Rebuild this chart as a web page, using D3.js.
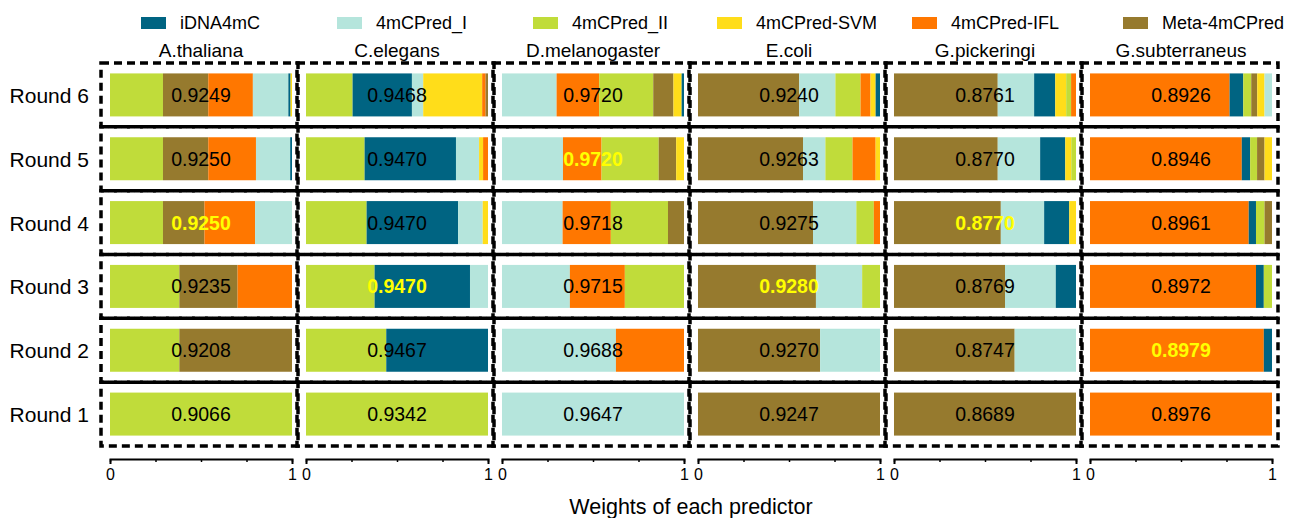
<!DOCTYPE html>
<html>
<head>
<meta charset="utf-8">
<script src="https://cdn.jsdelivr.net/npm/d3@7"></script>
<style>
  body { margin: 0; background: #fff; }
  text { font-family: "Liberation Sans", Arial, sans-serif; fill: #000; }
</style>
</head>
<body>
<script>
// Weights of each predictor per round, one small panel per species

const species = ["A.thaliana", "C.elegans", "D.melanogaster", "E.coli", "G.pickeringi", "G.subterraneus"];
const predictors = ["iDNA4mC", "4mCPred_I", "4mCPred_II", "4mCPred-SVM", "4mCPred-IFL", "Meta-4mCPred"];
const rounds = ["Round 1", "Round 2", "Round 3", "Round 4", "Round 5", "Round 6"];
const axisTicks = [0, 0.25, 0.5, 0.75, 1];

// order in which the predictors were added (round n uses the first n)
const orderAth = ["4mCPred_II", "Meta-4mCPred", "4mCPred-IFL", "4mCPred_I", "iDNA4mC", "4mCPred-SVM"];
const orderCel = ["4mCPred_II", "iDNA4mC", "4mCPred_I", "4mCPred-SVM", "4mCPred-IFL", "Meta-4mCPred"];
const orderDme = ["4mCPred_I", "4mCPred-IFL", "4mCPred_II", "Meta-4mCPred", "4mCPred-SVM", "iDNA4mC"];
const orderEco = ["Meta-4mCPred", "4mCPred_I", "4mCPred_II", "4mCPred-IFL", "4mCPred-SVM", "iDNA4mC"];
const orderGpi = ["Meta-4mCPred", "4mCPred_I", "iDNA4mC", "4mCPred-SVM", "4mCPred_II", "4mCPred-IFL"];
const orderGsu = ["4mCPred-IFL", "iDNA4mC", "4mCPred_II", "Meta-4mCPred", "4mCPred-SVM", "4mCPred_I"];

// weights per round (Round 1 .. Round 6), in the order above
const weightsAth = [[1], [0.381, 0.619], [0.381, 0.320, 0.299], [0.291, 0.228, 0.278, 0.203],
  [0.291, 0.249, 0.262, 0.188, 0.010], [0.291, 0.249, 0.245, 0.195, 0.012, 0.008]];
const weightsCel = [[1], [0.441, 0.559], [0.377, 0.524, 0.099], [0.333, 0.503, 0.135, 0.029],
  [0.322, 0.502, 0.127, 0.022, 0.027], [0.256, 0.326, 0.062, 0.324, 0.019, 0.013]];
const weightsDme = [[1], [0.626, 0.374], [0.373, 0.302, 0.325], [0.333, 0.265, 0.314, 0.088],
  [0.335, 0.212, 0.314, 0.096, 0.043], [0.300, 0.234, 0.297, 0.111, 0.045, 0.013]];
const weightsEco = [[1], [0.671, 0.329], [0.648, 0.254, 0.098], [0.632, 0.238, 0.096, 0.034],
  [0.577, 0.123, 0.149, 0.127, 0.024], [0.556, 0.199, 0.138, 0.055, 0.028, 0.024]];
const weightsGpi = [[1], [0.663, 0.337], [0.610, 0.279, 0.111], [0.587, 0.238, 0.138, 0.037],
  [0.570, 0.233, 0.138, 0.033, 0.026], [0.570, 0.200, 0.116, 0.060, 0.027, 0.027]];
const weightsGsu = [[1], [0.955, 0.045], [0.912, 0.043, 0.045], [0.872, 0.040, 0.047, 0.041],
  [0.834, 0.046, 0.038, 0.041, 0.041], [0.767, 0.075, 0.044, 0.033, 0.040, 0.041]];

// accuracy printed on each bar (Round 1 .. Round 6)
const accAth = ["0.9066", "0.9208", "0.9235", "0.9250", "0.9250", "0.9249"];
const accCel = ["0.9342", "0.9467", "0.9470", "0.9470", "0.9470", "0.9468"];
const accDme = ["0.9647", "0.9688", "0.9715", "0.9718", "0.9720", "0.9720"];
const accEco = ["0.9247", "0.9270", "0.9280", "0.9275", "0.9263", "0.9240"];
const accGpi = ["0.8689", "0.8747", "0.8769", "0.8770", "0.8770", "0.8761"];
const accGsu = ["0.8976", "0.8979", "0.8972", "0.8961", "0.8946", "0.8926"];

// round picked as best (highlighted)
const bestRound = ["Round 4", "Round 3", "Round 5", "Round 3", "Round 4", "Round 2"];

const orders = [orderAth, orderCel, orderDme, orderEco, orderGpi, orderGsu];
const weights = [weightsAth, weightsCel, weightsDme, weightsEco, weightsGpi, weightsGsu];
const accs = [accAth, accCel, accDme, accEco, accGpi, accGsu];

const color = d3.scaleOrdinal()
  .domain(predictors)
  .range(["#006482", "#b5e5dc", "#c0dc3a", "#ffdd1a", "#ff7700", "#967a2e"]);

let svg = null;
let panelX, rowY, w = null;
const W = 1292, H = 518;

appendSvg("body");
setupScales();
appendLegend();
appendPanels();
appendRoundLabels();
appendAxisTitle();

function appendSvg(el) {
  svg = d3.select(el).append("svg")
    .attr("width", W)
    .attr("height", H);
}

function setupScales() {
  // one band per species
  panelX = d3.scaleBand()
    .domain(species)
    .range([110, 1272])
    .paddingInner(0.0714);

  // Round 6 at top
  rowY = d3.scaleBand()
    .domain(rounds.slice().reverse())
    .range([63, 446]);

  // weight 0..1 inside one panel
  w = d3.scaleLinear()
    .domain([0, 1])
    .range([0, panelX.bandwidth()]);
}

function appendLegend() {
  const legendX = [141, 337, 533, 717, 912, 1123];
  const g = svg.append("g").attr("class", "legend");
  const items = g.selectAll("g")
    .data(predictors)
    .enter().append("g")
    .attr("transform", (d, i) => `translate(${legendX[i]}, 17)`);

  items.append("rect")
    .attr("width", 25)
    .attr("height", 12)
    .attr("fill", d => color(d));

  items.append("text")
    .attr("x", 39)
    .attr("y", 12)
    .style("font-size", "18px")
    .text(d => d);
}

function appendPanels() {
  species.forEach(function(sp, si) {
    const x0 = panelX(sp);
    const g = svg.append("g").attr("transform", `translate(${x0}, 0)`);

    // title
    g.append("text")
      .attr("x", panelX.bandwidth() / 2)
      .attr("y", 57)
      .attr("text-anchor", "middle")
      .style("font-size", "19px")
      .text(sp);

    // build segments for every round
    const segs = [];
    rounds.forEach(function(r, ri) {
      let acc = 0;
      weights[si][ri].forEach(function(v, k) {
        segs.push({round: r, pred: orders[si][k], x: acc, v: v});
        acc += v;
      });
    });

    const barH = 43;
    const off = (rowY.bandwidth() - barH) / 2;

    g.selectAll("rect.seg")
      .data(segs)
      .enter().append("rect")
      .attr("class", "seg")
      .attr("x", d => w(d.x))
      .attr("y", d => rowY(d.round) + off)
      .attr("width", d => w(d.v))
      .attr("height", barH)
      .attr("fill", d => color(d.pred));

    // dashed box round each cell
    g.selectAll("rect.box")
      .data(rounds)
      .enter().append("rect")
      .attr("class", "box")
      .attr("x", -9)
      .attr("y", d => rowY(d))
      .attr("width", panelX.bandwidth() + 15)
      .attr("height", rowY.bandwidth())
      .attr("fill", "none")
      .attr("stroke", "#000")
      .attr("stroke-width", 3.5)
      .attr("stroke-dasharray", "8 5");

    // accuracy labels
    g.selectAll("text.acc")
      .data(rounds)
      .enter().append("text")
      .attr("class", "acc")
      .attr("x", panelX.bandwidth() / 2)
      .attr("y", d => rowY(d) + rowY.bandwidth() / 2)
      .attr("dy", "0.36em")
      .attr("text-anchor", "middle")
      .style("font-size", "19.5px")
      .style("font-weight", d => d === bestRound[si] ? "bold" : "normal")
      .style("fill", d => d === bestRound[si] ? "#ffff00" : "#000")
      .text((d, i) => accs[si][i]);

    // x axis
    const ax = g.append("g")
      .attr("transform", "translate(0, 459)")
      .call(d3.axisBottom(w)
        .tickValues(axisTicks)
        .tickSizeInner(3)
        .tickSizeOuter(5)
        .tickFormat(d => (d === 0 || d === 1) ? d : ""));
    ax.select(".domain").attr("stroke-width", 2);
    ax.selectAll(".tick line").attr("stroke-width", 1.5);
    ax.selectAll(".tick text")
      .attr("y", 10)
      .style("font-size", "16px")
      .style("font-family", "'Liberation Sans', Arial, sans-serif");
  });
}

function appendRoundLabels() {
  svg.append("g")
    .selectAll("text")
    .data(rounds)
    .enter().append("text")
    .attr("x", 89)
    .attr("y", d => rowY(d) + rowY.bandwidth() / 2)
    .attr("dy", "0.38em")
    .attr("text-anchor", "end")
    .style("font-size", "21px")
    .text(d => d);
}

function appendAxisTitle() {
  const r = panelX.range();
  svg.append("text")
    .attr("x", (r[0] + r[1]) / 2)
    .attr("y", 514)
    .attr("text-anchor", "middle")
    .style("font-size", "21.5px")
    .text("Weights of each predictor");
}
</script>
</body>
</html>
